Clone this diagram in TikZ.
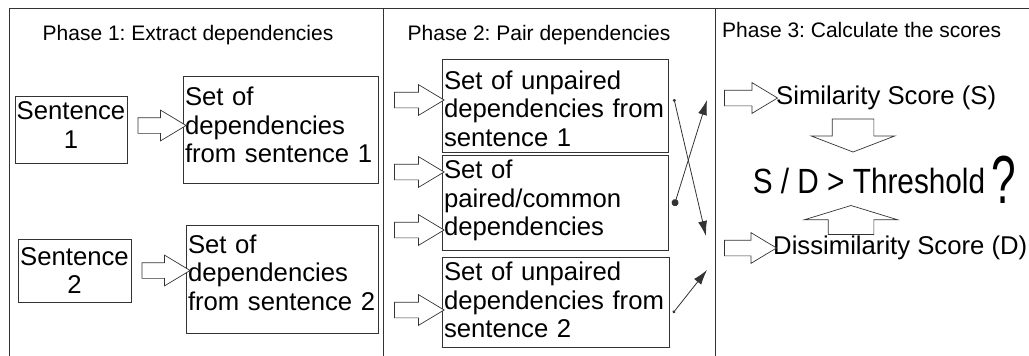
\documentclass[tikz,border=0pt]{standalone}
\usepackage{fontspec}
\setmainfont{Liberation Sans}
\frenchspacing
\usetikzlibrary{calc,arrows.meta,shapes.arrows}
\colorlet{ink}{black!80}
\newcommand\boxfont{\fontsize{25.7}{28.5}\selectfont}
\newcommand\titlefont{\fontsize{21}{24}\selectfont}
% extra room (or less room) below the text of a box
\newcommand\padlow[1]{\par\kern#1}
\tikzset{
  frame/.style = {draw=ink,line width=1pt},
  setbox/.style = {draw=ink,line width=0.9pt,inner xsep=1.5pt,inner ysep=2pt,
    font=\boxfont,align=left},
  sentbox/.style = {setbox,align=center},
  title/.style = {font=\titlefont,inner sep=0pt},
  score/.style = {font=\boxfont,inner sep=0pt},
  fat/.style = {single arrow,draw=ink,fill=white,line width=0.7pt,inner xsep=0pt,
    inner ysep=7.5pt,single arrow head extend=7.5pt,single arrow tip angle=62},
  fatdown/.style = {fat,inner ysep=20.5pt,single arrow head extend=21pt,
    single arrow tip angle=138},
  fatup/.style = {fat,inner ysep=22.5pt,single arrow head extend=23.5pt,
    single arrow tip angle=146},
  link/.style = {draw=ink,line width=0.8pt},
}
% hollow arrow between two points
\newcommand\fatarrow[3][]{%
  \path let \p1=#2, \p2=#3, \n1={veclen(\x2-\x1,\y2-\y1)},
    \n2={atan2(\y2-\y1,\x2-\x1)} in
    ($(\p1)!.5!(\p2)$) node[fat,#1,minimum height=\n1,rotate=\n2] {};}

\begin{document}
\begin{tikzpicture}[x=1pt,y=-1pt]
  \useasboundingbox (0,0) rectangle (1029,356);
  % frame
  \draw[frame] (9,356) -- (9,8) -- (1029,8);
  \draw[frame] (383,8) -- (383,356);
  \draw[frame] (715,8) -- (715,356);
  % titles
  \node[title,anchor=base] (t1) at (188,40) {Phase 1: Extract dependencies};
  \node[title,anchor=base] (t2) at (539,40) {Phase 2: Pair dependencies};
  \node[title,anchor=base west] (t3) at (722,37) {Phase 3: Calculate the scores};
  % phase 1
  \node[sentbox,minimum width=112pt,minimum height=67pt,text width=109pt] (s1)
    at (71,129.5) {Sentence\\1\padlow{9pt}};
  \node[setbox,minimum width=195pt,minimum height=107pt,text width=191pt] (d1)
    at (280.5,129.5) {Set of\\dependencies\\from sentence 1\padlow{9pt}};
  \node[sentbox,minimum width=113pt,minimum height=63pt] (s2) at (74.5,270.5)
    {Sentence\\2};
  \node[setbox,minimum width=192pt,minimum height=108pt,text width=188pt] (d2)
    at (282,279) {Set of\\dependencies\\from sentence 2\padlow{13pt}};
  \fatarrow{($(s1.east)+(4,-4)$)}{($(s1.east -| d1.west)+(-3,-4)$)}
  \fatarrow{($(s2.east)+(4,0)$)}{($(s2.east -| d2.west)+(-2,0)$)}
  % phase 2
  \node[setbox,minimum width=226pt,minimum height=93pt,text width=222pt] (A)
    at (555,105.5) {Set of unpaired\\dependencies from\\sentence 1\padlow{-6pt}};
  \node[setbox,minimum width=226pt,minimum height=95pt,text width=222pt] (B)
    at (555,202.5) {Set of\\paired/common\\dependencies\padlow{4pt}};
  \node[setbox,minimum width=227pt,minimum height=90pt,text width=223pt] (C)
    at (555.5,302) {Set of unpaired\\dependencies from\\sentence 2\padlow{4pt}};
  \coordinate (p1) at (388,100);
  \coordinate (p2) at (388,172);
  \coordinate (p3) at (388,230);
  \coordinate (p4) at (388,310);
  \fatarrow{(p1)}{($(p1 -| A.west)+(-4,0)$)}
  \fatarrow{(p2)}{($(p2 -| B.west)+(-4,0)$)}
  \fatarrow{(p3)}{($(p3 -| B.west)+(-4,0)$)}
  \fatarrow{(p4)}{($(p4 -| C.west)+(-4,0)$)}
  % links to phase 3
  \coordinate (a1) at (674,99);
  \coordinate (a2) at (706,236);
  \coordinate (b1) at (674,206);
  \coordinate (b2) at (707,100);
  \coordinate (c1) at (673,313);
  \coordinate (c2) at (707,270);
  \draw[link,{Circle[length=3pt]}-{Latex[length=15pt,width=9pt]}] (a1) -- (a2);
  \draw[link,{Circle[length=7pt]}-{Latex[length=15pt,width=9pt]}] (b1) -- (b2);
  \draw[link,{Circle[length=3pt]}-{Latex[length=15pt,width=9pt]}] (c1) -- (c2);
  % phase 3
  \node[score,anchor=west] (sim) at (776,98) {Similarity Score (S)};
  \node[score,anchor=west] (dis) at (773,248) {Dissimilarity Score (D)};
  \node[score,anchor=base] (thr) at (869,193)
    {\scalebox{0.85}[1]{\fontsize{35}{40}\selectfont S / D > Threshold}};
  \node[score,anchor=base] (q) at (1004,203)
    {\scalebox{0.65}[1]{\fontsize{68}{68}\selectfont ?}};
  \coordinate (q1) at (718,98);
  \coordinate (q2) at (718,248);
  \fatarrow{(q1)}{($(sim.west)+(-5,0)$)}
  \fatarrow{(q2)}{($(dis.west)+(-3,0)$)}
  \coordinate (dtop) at (853,115);
  \coordinate (dtip) at (853,148);
  \coordinate (ubot) at (851,238);
  \coordinate (utip) at (851,209);
  \fatarrow[fatdown]{(dtop)}{(dtip)}
  \fatarrow[fatup]{(ubot)}{(utip)}
\end{tikzpicture}
\end{document}
